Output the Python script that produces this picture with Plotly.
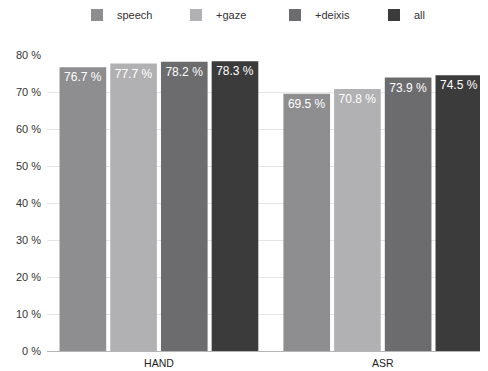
import plotly.graph_objects as go

categories = ["HAND", "ASR"]
series_names = ["speech", "+gaze", "+deixis", "all"]
speech = [76.7, 69.5]
gaze = [77.7, 70.8]
deixis = [78.2, 73.9]
all_ = [78.3, 74.5]
values = [speech, gaze, deixis, all_]
colors = ["#8e8e90", "#b1b1b3", "#6c6c6f", "#3b3b3c"]
y_ticks = [0, 10, 20, 30, 40, 50, 60, 70, 80]
y_tick_labels = [f"{v} %" for v in y_ticks]

fig = go.Figure()
for name, vals, c in zip(series_names, values, colors):
    fig.add_trace(go.Bar(
        name=name, x=categories, y=vals,
        marker=dict(color=c, line=dict(width=0)),
        text=[f"{v:.1f} %" for v in vals],
        textposition="inside", insidetextanchor="end",
        textangle=0,
        textfont=dict(color="white", size=12, family="Liberation Sans"),
        cliponaxis=False,
    ))

# page body adds an 8px offset, so the figure is 8px smaller than the window
fig.update_layout(
    width=480, height=363,
    margin=dict(l=39, r=0, t=47, b=20, autoexpand=False),
    paper_bgcolor="white", plot_bgcolor="white",
    barmode="group", bargap=0.094, bargroupgap=0.08,
    font=dict(family="Liberation Sans", size=11, color="#333333"),
    legend=dict(orientation="h", x=0.068, xanchor="left", y=1.135, yanchor="middle",
                entrywidth=54, font=dict(size=11, color="#333"),
                itemwidth=30),
    showlegend=True,
)
fig.update_xaxes(range=[-0.5, 1.47], showline=False, ticks="", showgrid=False,
                 automargin=False, ticklabelstandoff=4,
                 tickfont=dict(size=10.5, color="#222"))
fig.update_yaxes(range=[0, 80], tickvals=y_ticks, ticktext=y_tick_labels,
                 showgrid=True, gridcolor="#e6e6e6", zeroline=True, zerolinecolor="#b5b5b5",
                 automargin=False, ticklabelstandoff=5,
                 zerolinewidth=1, ticks="", tickfont=dict(size=11, color="#333"))

fig.write_html("out.html")
